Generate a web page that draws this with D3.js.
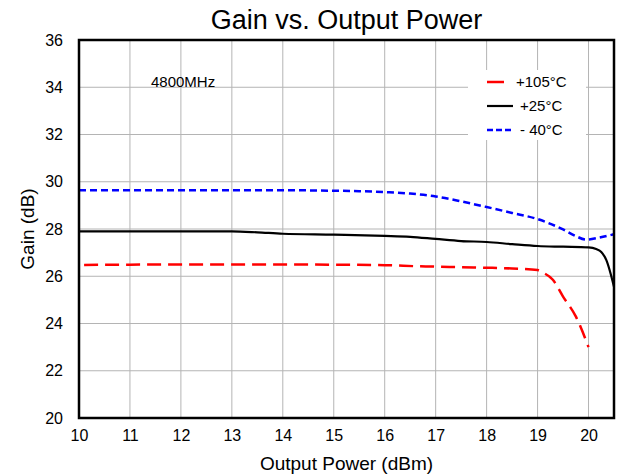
<!DOCTYPE html>
<html>
<head>
<meta charset="utf-8">
<script src="https://cdn.jsdelivr.net/npm/d3@7"></script>
<style>
  body { margin: 0; background: #fff; }
  svg { font-family: "Liberation Sans", Arial, sans-serif; }
</style>
</head>
<body>
<div id="chart"></div>
<script>
// Gain (dB) vs output power (dBm)
const hotX = [10.1, 11, 12, 13, 14, 15, 16, 16.7, 17, 17.5, 18, 18.5, 19, 19.1, 19.3, 19.5, 19.75, 20];
const hotY = [26.48, 26.49, 26.5, 26.5, 26.5, 26.49, 26.47, 26.42, 26.41, 26.38, 26.36, 26.33, 26.26, 26.16, 25.85, 25.14, 24.3, 23.0];

const roomX = [10, 11, 12, 13, 13.5, 14, 15, 16, 16.5, 17, 17.5, 18, 18.5, 19, 19.5, 20, 20.15, 20.25, 20.35, 20.5];
const roomY = [27.9, 27.9, 27.9, 27.9, 27.86, 27.8, 27.76, 27.71, 27.67, 27.58, 27.49, 27.45, 27.36, 27.28, 27.25, 27.22, 27.15, 27.03, 26.68, 25.55];

const coldX = [10, 11, 12, 13, 14, 15, 15.5, 16, 16.5, 17, 17.5, 18, 18.5, 19, 19.5, 19.75, 19.95, 20.2, 20.5];
const coldY = [29.64, 29.64, 29.64, 29.64, 29.64, 29.62, 29.6, 29.56, 29.5, 29.38, 29.17, 28.93, 28.68, 28.42, 27.98, 27.7, 27.55, 27.63, 27.78];

const xTicks = [10, 11, 12, 13, 14, 15, 16, 17, 18, 19, 20];
const yTicks = [20, 22, 24, 26, 28, 30, 32, 34, 36];
const seriesNames = ["+105°C", "+25°C", "- 40°C"];

const margin = {top: 40, right: 7, bottom: 56, left: 79};
const W = 621, H = 474;
const width = W - margin.left - margin.right,
      height = H - margin.top - margin.bottom;

const svg = d3.select("#chart").append("svg")
    .attr("width", W)
    .attr("height", H);

const g = svg.append("g")
    .attr("transform", "translate(" + margin.left + "," + margin.top + ")");

const x = d3.scaleLinear().domain([10, 20.5]).range([0, width]);
const y = d3.scaleLinear().domain([20, 36]).range([height, 0]);

// grid
g.append("g")
    .selectAll("line")
    .data(xTicks.slice(1))
    .enter().append("line")
    .attr("x1", d => x(d)).attr("x2", d => x(d))
    .attr("y1", 0).attr("y2", height)
    .attr("stroke", "#b4b4b4").attr("stroke-width", 1);

g.append("g")
    .selectAll("line")
    .data(yTicks.slice(1, -1))
    .enter().append("line")
    .attr("x1", 0).attr("x2", width)
    .attr("y1", d => y(d)).attr("y2", d => y(d))
    .attr("stroke", "#b4b4b4").attr("stroke-width", 1);

// axes (labels only)
const xAxis = g.append("g")
    .attr("transform", "translate(0," + height + ")")
    .call(d3.axisBottom(x).tickValues(xTicks).tickSize(0).tickPadding(12));
const yAxis = g.append("g")
    .call(d3.axisLeft(y).tickValues(yTicks).tickSize(0).tickPadding(16));
[xAxis, yAxis].forEach(a => {
    a.select(".domain").remove();
    a.selectAll("text")
        .attr("font-family", "Liberation Sans, Arial, sans-serif")
        .attr("font-size", "16px")
        .attr("fill", "#000");
});

// lines
const line = d3.line()
    .x(d => x(d[0]))
    .y(d => y(d[1]))
    .curve(d3.curveMonotoneX);

const zip = (xs, ys) => xs.map((v, i) => [v, ys[i]]);

const series = [
    {name: seriesNames[0], pts: zip(hotX, hotY), color: "#ff0000", dash: "14,7", legDash: null, w: 2.5},
    {name: seriesNames[1], pts: zip(roomX, roomY), color: "#000000", dash: null, legDash: null, w: 2.2},
    {name: seriesNames[2], pts: zip(coldX, coldY), color: "#0000ff", dash: "7,4", legDash: "6,3", w: 2.5}
];

series.forEach(s => {
    g.append("path")
        .datum(s.pts)
        .attr("fill", "none")
        .attr("stroke", s.color)
        .attr("stroke-width", s.w)
        .attr("stroke-dasharray", s.dash)
        .attr("d", line);
});

// border
g.append("rect")
    .attr("x", 0).attr("y", 0)
    .attr("width", width).attr("height", height)
    .attr("fill", "none")
    .attr("stroke", "#000")
    .attr("stroke-width", 2.5);

// legend
const legend = g.append("g").attr("transform", "translate(" + (468 - margin.left) + "," + (70 - margin.top) + ")");
legend.append("rect")
    .attr("width", 118).attr("height", 70)
    .attr("fill", "#fff");
const legendLen = [17, 26, 24];
series.forEach((s, i) => {
    const ly = 12 + i * 24;
    legend.append("line")
        .attr("x1", 19).attr("x2", 19 + legendLen[i])
        .attr("y1", ly).attr("y2", ly)
        .attr("stroke", s.color)
        .attr("stroke-width", s.w)
        .attr("stroke-dasharray", s.legDash);
    legend.append("text")
        .attr("x", i === 0 ? 48 : 52)
        .attr("y", ly + 5)
        .attr("font-size", "15px")
        .text(s.name);
});

// annotation
g.append("text")
    .attr("x", 151 - margin.left)
    .attr("y", 87 - margin.top)
    .attr("font-size", "15px")
    .text("4800MHz");

// titles
svg.append("text")
    .attr("x", margin.left + width / 2)
    .attr("y", 29)
    .attr("text-anchor", "middle")
    .attr("font-size", "27px")
    .text("Gain vs. Output Power");

svg.append("text")
    .attr("x", margin.left + width / 2)
    .attr("y", 470)
    .attr("text-anchor", "middle")
    .attr("font-size", "19px")
    .text("Output Power (dBm)");

svg.append("text")
    .attr("transform", "translate(34," + (margin.top + height / 2) + ") rotate(-90)")
    .attr("text-anchor", "middle")
    .attr("font-size", "19px")
    .text("Gain (dB)");
</script>
</body>
</html>
